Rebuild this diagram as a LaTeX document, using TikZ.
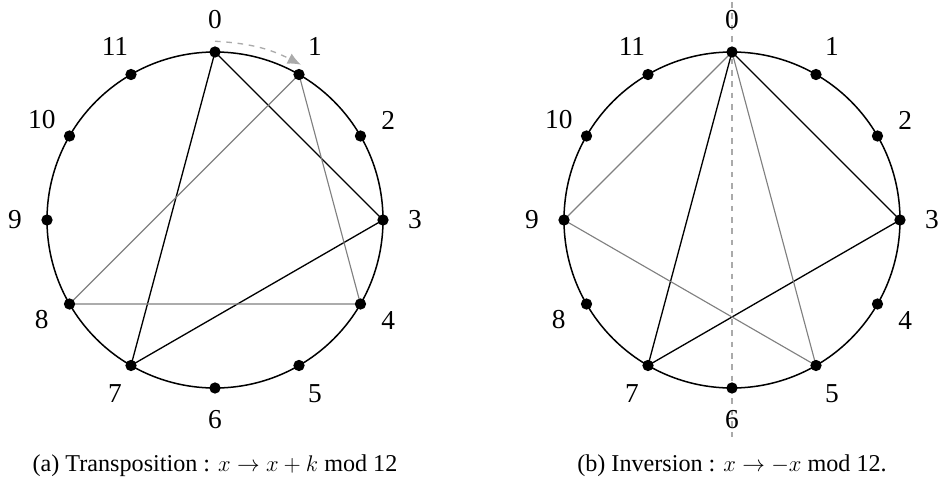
\documentclass[tikz,border=0pt]{standalone}
\usepackage{amsmath,amssymb}
\usepackage{fontspec}
\setmainfont{Liberation Serif}
\usepackage{tikz}
\usetikzlibrary{arrows.meta}
\definecolor{chordg}{HTML}{808080}
\definecolor{guide}{HTML}{AAAAAA}

\begin{document}
\begin{tikzpicture}[x=0.53pt,y=0.53pt,font=\fontsize{12.8}{15}\selectfont,
    dot/.style={circle,fill=black,inner sep=0pt,minimum size=6pt},
    lbl/.style={font=\fontsize{14.5}{17}\selectfont,inner sep=0pt},
    blk/.style={black,line width=0.7pt},
    gry/.style={chordg,line width=0.6pt}]
  \useasboundingbox (0,0) rectangle (941,481);
  % (a) transposition
  \begin{scope}[shift={(215,261)}]
    \coordinate (ca) at (0,0);
    \foreach \i in {0,...,11} {\coordinate (a\i) at ({90-30*\i}:168);}
    \draw[blk] (a0) -- (a3) -- (a7) -- cycle;
    \draw[gry] (a1) -- (a4) -- (a8) -- cycle;
    \draw[line width=0.8pt] (ca) circle (168);
    \foreach \i in {0,...,11} {
      \node[dot] (da\i) at (a\i) {};
      \node[lbl] (la\i) at ({90-30*\i}:200) {\i};
    }
    \draw[guide,dashed,line width=0.7pt,-{Latex[length=7pt,width=6pt]}]
      ([yshift=2.5pt]da0.north) to[bend left=12] ([xshift=1pt,yshift=2pt]da1.north);
    \node (capa) at (0,-246) {(a) Transposition : $x \to x+k$ mod 12};
  \end{scope}
  % (b) inversion
  \begin{scope}[shift={(732,261)}]
    \coordinate (cb) at (0,0);
    \coordinate (axtop) at (0,218);
    \coordinate (axbot) at (0,-217);
    \foreach \i in {0,...,11} {\coordinate (b\i) at ({90-30*\i}:168);}
    \draw[guide,dashed,line width=0.8pt] (axtop) -- (axbot);
    \draw[blk] (b0) -- (b3) -- (b7) -- cycle;
    \draw[gry] (b0) -- (b9) -- (b5) -- cycle;
    \draw[line width=0.8pt] (cb) circle (168);
    \foreach \i in {0,...,11} {
      \node[dot] (db\i) at (b\i) {};
      \node[lbl] (lb\i) at ({90-30*\i}:200) {\i};
    }
    \node (capb) at (0,-246) {(b) Inversion : $x \to -x$ mod 12.};
  \end{scope}
\end{tikzpicture}
\end{document}
